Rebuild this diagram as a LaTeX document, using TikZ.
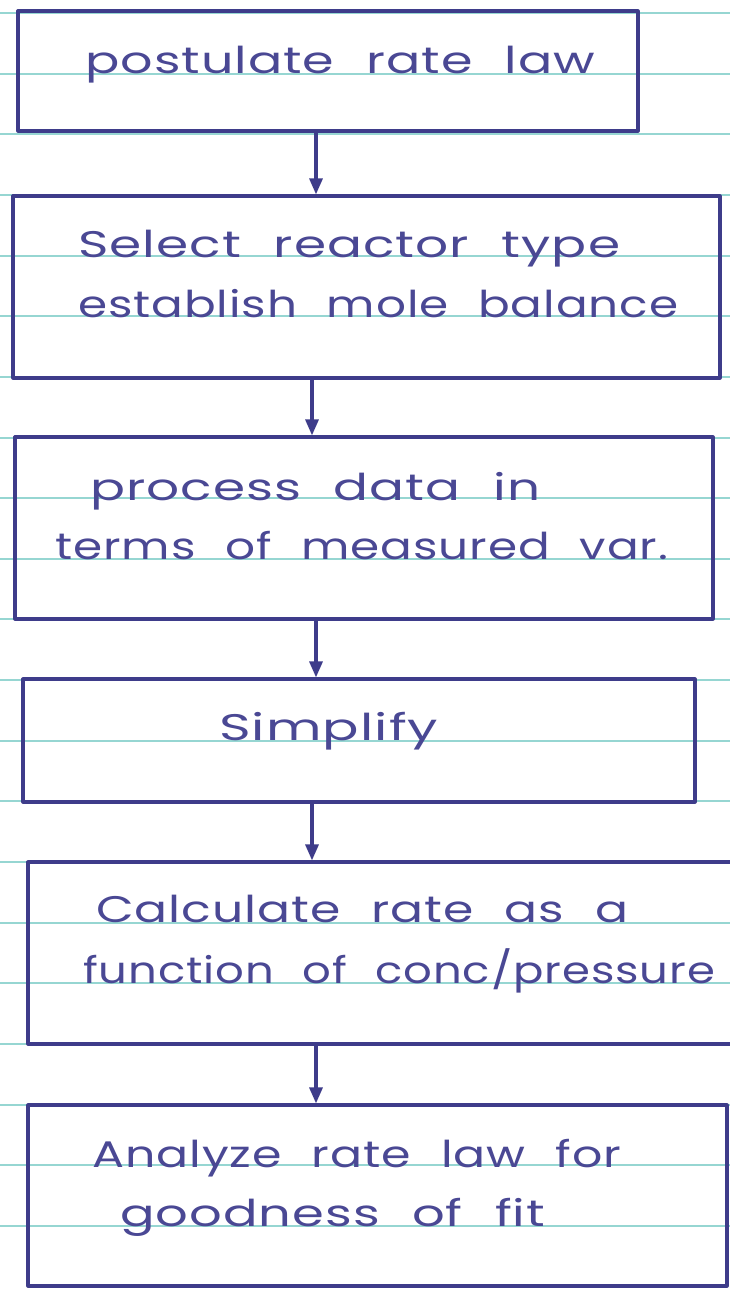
\documentclass[tikz,border=0pt]{standalone}
\usepackage{fontspec}
\usepackage{graphicx}
\usetikzlibrary{arrows.meta}
\newfontfamily\handfont[LetterSpace=2,WordSpace=2.2]{Poppins}
\definecolor{ink}{RGB}{62,60,138}
\definecolor{textink}{RGB}{74,72,148}
\definecolor{ruled}{RGB}{150,214,210}
\newlength\fitlen
\newcommand\fitto[2]{\settowidth\fitlen{\handfont\fontsize{37}{42}\selectfont #2}%
  \pgfmathsetmacro\fitf{#1/\fitlen}%
  \scalebox{\fitf}[1]{\handfont\fontsize{37}{42}\selectfont #2}}
\tikzset{
  flowbox/.style={draw=ink, line width=3.2pt, rectangle, inner sep=0pt, line join=round},
  hand/.style={anchor=base west, inner sep=0pt, text=textink},
  flowarrow/.style={draw=ink, line width=3.2pt, -{Triangle[length=16pt,width=13pt]}},
}
\begin{document}
\begin{tikzpicture}[x=1pt,y=-1pt]
\useasboundingbox (0,0) rectangle (730,1289);
\clip (0,0) rectangle (730,1289);
\fill[white] (0,0) rectangle (730,1289);
\foreach \k in {0,...,20}{
  \pgfmathsetmacro\ly{round(13+60.65*\k)}
  \draw[ruled, line width=2pt] (0,\ly) -- (730,\ly);
}
% boxes
\node[flowbox, minimum width=620pt, minimum height=120pt] (b1) at (328,71) {};
\node[flowbox, minimum width=707pt, minimum height=182pt] (b2) at (366.5,287) {};
\node[flowbox, minimum width=698pt, minimum height=182pt] (b3) at (364,528) {};
\node[flowbox, minimum width=672pt, minimum height=123pt] (b4) at (359,740.5) {};
\node[flowbox, minimum width=712pt, minimum height=182pt] (b5) at (384,953) {};
\node[flowbox, minimum width=699pt, minimum height=181pt] (b6) at (377.5,1195.5) {};
% texts
\node[hand] (t1) at (85,74) {\fitto{510}{postulate rate law}};
\node[hand] (t2a) at (78,258) {\fitto{542}{Select reactor type}};
\node[hand] (t2b) at (78,317) {\fitto{600}{establish mole balance}};
\node[hand] (t3a) at (90,500) {\fitto{450}{process data in}};
\node[hand] (t3b) at (55,559) {\fitto{613}{terms of measured var.}};
\node[hand] (t4) at (219,740) {\fitto{219}{Simplify}};
\node[hand] (t5a) at (96,922) {\fitto{532}{Calculate rate as a}};
\node[hand] (t5b) at (83,983) {\fitto{632}{function of conc/pressure}};
\node[hand] (t6a) at (92,1167) {\fitto{529}{Analyze rate law for}};
\node[hand] (t6b) at (120,1226) {\fitto{425}{goodness of fit}};
% arrows
\draw[flowarrow] ([xshift=-12pt]b1.south) -- ([xshift=-12pt]b1.south |- b2.north);
\draw[flowarrow] ([xshift=-54.5pt]b2.south) -- ([xshift=-54.5pt]b2.south |- b3.north);
\draw[flowarrow] ([xshift=-48pt]b3.south) -- ([xshift=-48pt]b3.south |- b4.north);
\draw[flowarrow] ([xshift=-47pt]b4.south) -- ([xshift=-47pt]b4.south |- b5.north);
\draw[flowarrow] ([xshift=-68pt]b5.south) -- ([xshift=-68pt]b5.south |- b6.north);
\end{tikzpicture}
\end{document}
